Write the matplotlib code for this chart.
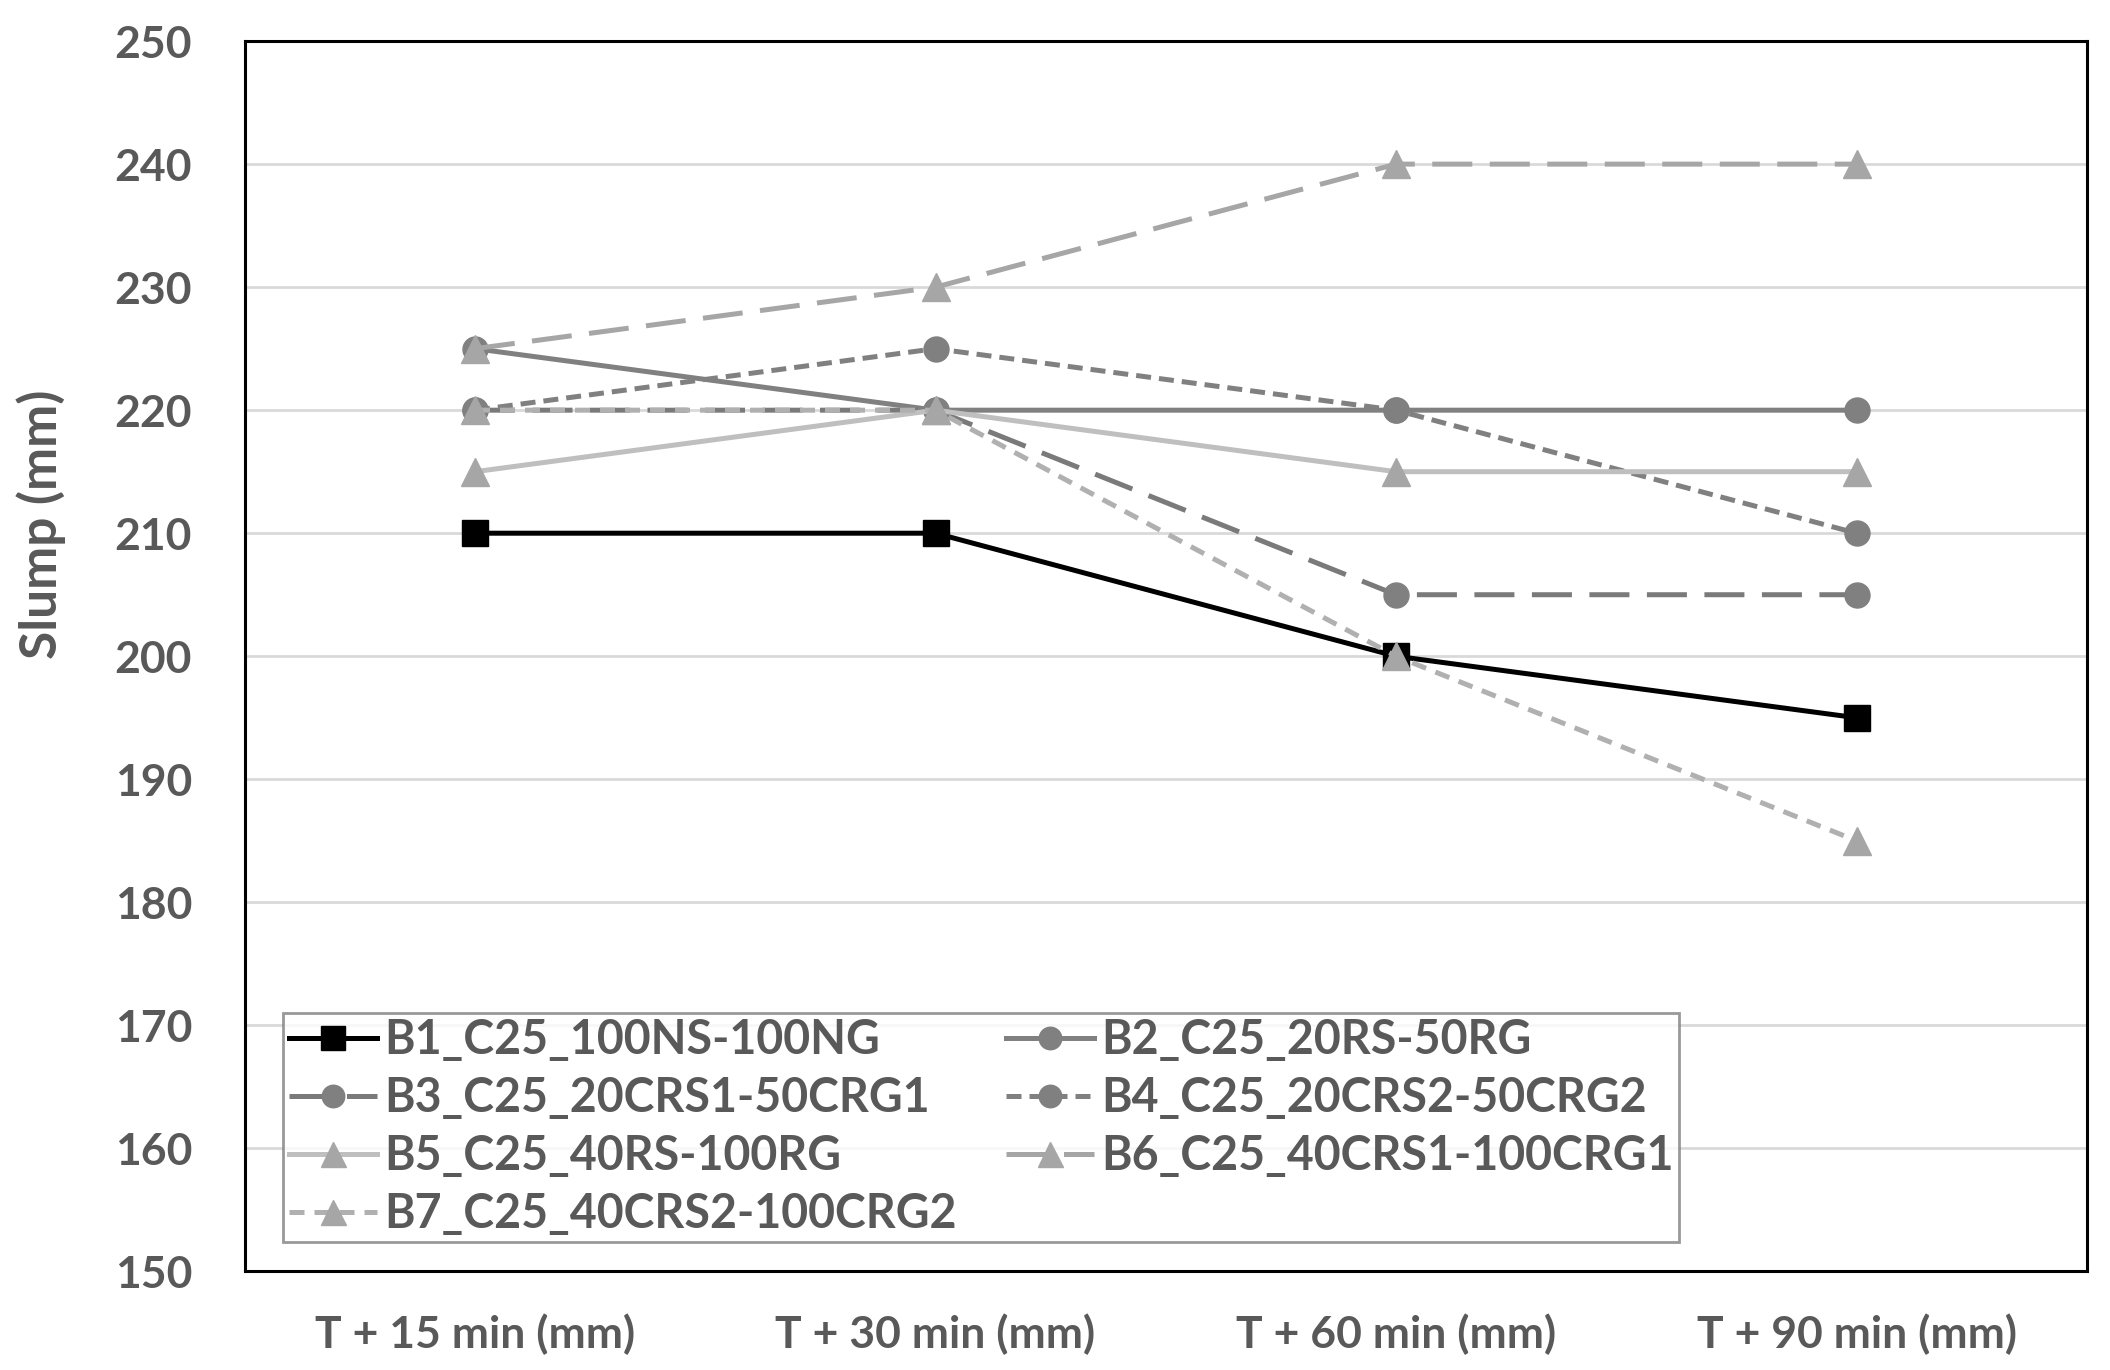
import matplotlib.pyplot as plt

plt.rcParams['font.family'] = ['Lato', 'DejaVu Sans']
plt.rcParams['font.weight'] = 'bold'

times = ['T + 15 min (mm)', 'T + 30 min (mm)', 'T + 60 min (mm)', 'T + 90 min (mm)']

b1 = [210, 210, 200, 195]
b2 = [225, 220, 220, 220]
b3 = [220, 220, 205, 205]
b4 = [220, 225, 220, 210]
b5 = [215, 220, 215, 215]
b6 = [225, 230, 240, 240]
b7 = [220, 220, 200, 185]

names = ['B1_C25_100NS-100NG', 'B2_C25_20RS-50RG', 'B3_C25_20CRS1-50CRG1',
         'B4_C25_20CRS2-50CRG2', 'B5_C25_40RS-100RG', 'B6_C25_40CRS1-100CRG1',
         'B7_C25_40CRS2-100CRG2']

txt = '#595959'
fig = plt.figure(figsize=(21.1, 13.7), dpi=100)
ax = fig.add_axes([0.116, 0.072, 0.873, 0.898])

x = range(len(times))
# colour, marker, dashes, marker colour, marker size
styles = [
    ('black', 's', None, 'black', 19),
    ('#808080', 'o', None, '#808080', 18),
    ('#7a7a7a', 'o', (8, 3.5), '#808080', 18),
    ('#808080', 'o', (3, 1.6), '#808080', 18),
    ('#bfbfbf', '^', None, '#a6a6a6', 20),
    ('#a6a6a6', '^', (8, 3.5), '#a6a6a6', 20),
    ('#b0b0b0', '^', (3, 2), '#a6a6a6', 20),
]
series = [b1, b2, b3, b4, b5, b6, b7]
handles = []
for vals, name, (c, m, d, mc, ms) in zip(series, names, styles):
    ln, = ax.plot(x, vals, color=c, marker=m, markersize=ms, lw=3.6,
                  markerfacecolor=mc, markeredgecolor=mc, label=name)
    if d is not None:
        ln.set_dashes(d)
    handles.append(ln)

ax.set_xlim(-0.5, 3.5)
ax.set_ylim(150, 250)
ax.set_yticks(range(150, 251, 10))
ax.set_xticks(list(x))
ax.set_xticklabels(times)
ax.yaxis.grid(True, color='#d9d9d9', lw=2)
ax.set_axisbelow(True)
ax.tick_params(length=0, labelsize=32, labelcolor=txt)
ax.tick_params(axis='x', pad=30)
ax.tick_params(axis='y', pad=38)
for s in ax.spines.values():
    s.set_linewidth(2.2)
    s.set_color('black')
ax.set_ylabel('Slump (mm)', fontsize=37, color=txt, fontweight='bold')
ax.yaxis.set_label_coords(-0.097, 0.607)

order = [0, 2, 4, 6, 1, 3, 5]
leg = ax.legend([handles[i] for i in order], [names[i] for i in order],
                ncol=2, loc='lower left', bbox_to_anchor=(0.021, 0.024),
                fontsize=33.5, frameon=True, fancybox=False,
                handlelength=1.9, handletextpad=0.15, borderpad=0.12,
                labelspacing=0.3, columnspacing=1.05, markerscale=0.9,
                borderaxespad=0)
leg.get_frame().set_edgecolor('#808080')
leg.get_frame().set_linewidth(2)
for t in leg.get_texts():
    t.set_color(txt)

fig.savefig('out.png', dpi=100)
